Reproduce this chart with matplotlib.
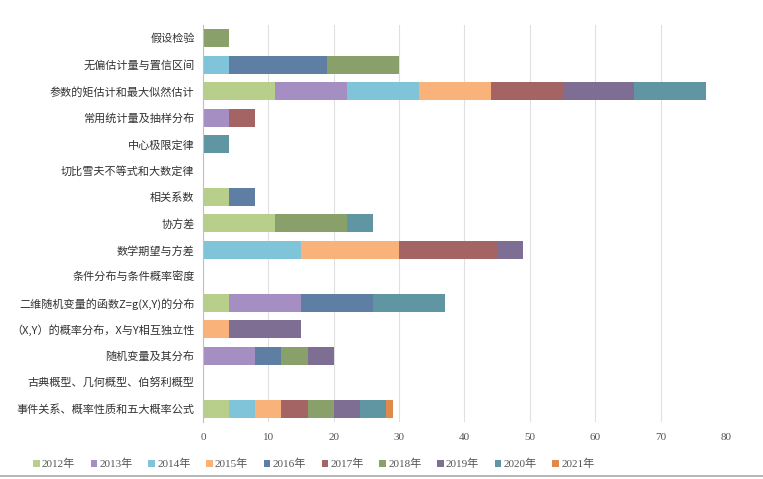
import matplotlib
matplotlib.use("Agg")
import matplotlib.pyplot as plt
import numpy as np

plt.rcParams['font.family'] = ['Noto Sans CJK SC', 'DejaVu Sans']

categories = [
    "事件关系、概率性质和五大概率公式",
    "古典概型、几何概型、伯努利概型",
    "随机变量及其分布",
    "（X,Y）的概率分布，X与Y相互独立性",
    "二维随机变量的函数Z=g(X,Y)的分布",
    "条件分布与条件概率密度",
    "数学期望与方差",
    "协方差",
    "相关系数",
    "切比雪夫不等式和大数定律",
    "中心极限定律",
    "常用统计量及抽样分布",
    "参数的矩估计和最大似然估计",
    "无偏估计量与置信区间",
    "假设检验",
]
years = ["2012年", "2013年", "2014年", "2015年", "2016年",
         "2017年", "2018年", "2019年", "2020年", "2021年"]

v2012 = [4, 0, 0, 0, 4, 0, 0, 11, 4, 0, 0, 0, 11, 0, 0]
v2013 = [0, 0, 8, 0, 11, 0, 0, 0, 0, 0, 0, 4, 11, 0, 0]
v2014 = [4, 0, 0, 0, 0, 0, 15, 0, 0, 0, 0, 0, 11, 4, 0]
v2015 = [4, 0, 0, 4, 0, 0, 15, 0, 0, 0, 0, 0, 11, 0, 0]
v2016 = [0, 0, 4, 0, 11, 0, 0, 0, 4, 0, 0, 0, 0, 15, 0]
v2017 = [4, 0, 0, 0, 0, 0, 15, 0, 0, 0, 0, 4, 11, 0, 0]
v2018 = [4, 0, 4, 0, 0, 0, 0, 11, 0, 0, 0, 0, 0, 11, 4]
v2019 = [4, 0, 4, 11, 0, 0, 4, 0, 0, 0, 0, 0, 11, 0, 0]
v2020 = [4, 0, 0, 0, 11, 0, 0, 4, 0, 0, 4, 0, 11, 0, 0]
v2021 = [1, 0, 0, 0, 0, 0, 0, 0, 0, 0, 0, 0, 0, 0, 0]

series = [v2012, v2013, v2014, v2015, v2016, v2017, v2018, v2019, v2020, v2021]
colors = ['#b8cf8c', '#a58fc2', '#7fc4d8', '#f9b27a', '#5e7ea3',
          '#a46464', '#89a06a', '#7f6e94', '#5f96a2', '#de8a4c']

fig = plt.figure(figsize=(7.63, 4.79), dpi=100)
ax = fig.add_axes([0.266, 0.119, 0.6855, 0.829])

y = np.arange(len(categories))
left = np.zeros(len(categories))
for vals, col, lab in zip(series, colors, years):
    vals = np.array(vals, dtype=float)
    ax.barh(y, vals, left=left, height=0.68, color=col, label=lab, edgecolor='none')
    left += vals

ax.set_xlim(0, 80)
ax.set_ylim(-0.5, len(categories) - 0.5)
ax.set_xticks(np.arange(0, 81, 10))
ax.set_yticks(y)
ax.set_yticklabels(categories, fontsize=8, color='#333333')
for lbl in ax.get_xticklabels():
    lbl.set_fontfamily('Liberation Serif')
    lbl.set_fontsize(8)
    lbl.set_color('#555555')
ax.tick_params(axis='both', length=0)
ax.tick_params(axis='x', pad=8)
ax.tick_params(axis='y', pad=6)
ax.grid(axis='x', color='#e0e0e0', linewidth=0.8)
ax.set_axisbelow(True)
for s in ['top', 'right', 'bottom']:
    ax.spines[s].set_visible(False)
ax.spines['left'].set_color('#bfbfbf')

leg = fig.legend(loc='lower left', bbox_to_anchor=(0.03, 0.0), ncol=10, frameon=False,
                 handlelength=0.6, handleheight=0.6, handletextpad=0.2,
                 columnspacing=1.4, prop={'family': ['Liberation Serif', 'Noto Sans CJK SC'], 'size': 8})
for t in leg.get_texts():
    t.set_color('#555555')

fig.add_artist(plt.Line2D([0, 1], [0.006, 0.006], color='#aaaaaa', linewidth=1.2, transform=fig.transFigure))

fig.savefig('out.png', dpi=100, facecolor='white')
